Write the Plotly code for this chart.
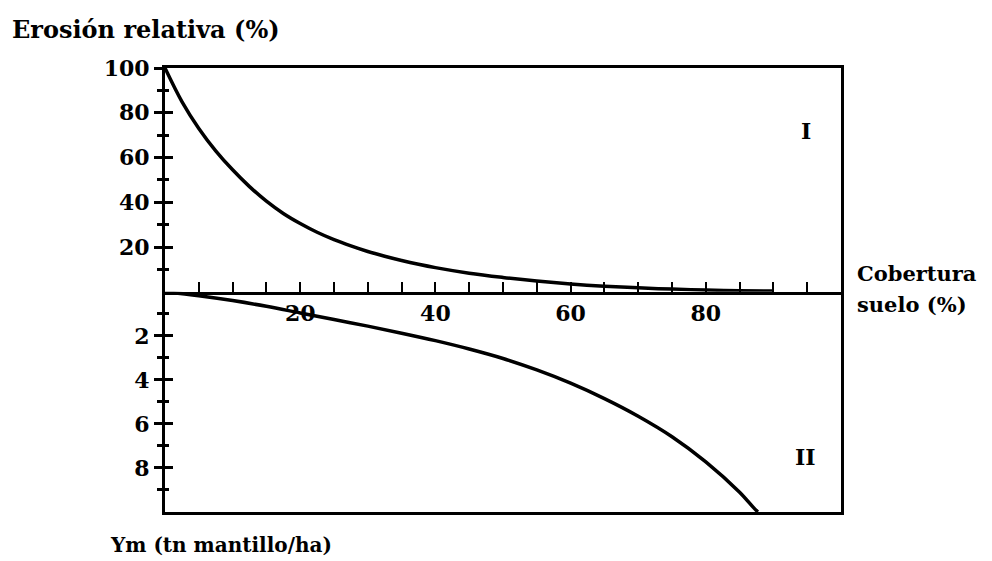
import plotly.graph_objects as go

# Cobertura del suelo (%)
cover_top = [0, 2.5, 5, 7.5, 10, 12.5, 15, 17.5, 20, 22.5, 25, 27.5, 30, 32.5, 35, 37.5, 40,
             45, 50, 55, 60, 65, 70, 75, 80, 85, 90]
# Erosión relativa (%)
erosion = [100, 85, 73, 63, 54.5, 47, 40.5, 35, 30.5, 26.6, 23.3, 20.5, 18, 15.9, 14, 12.3, 10.8,
           8.3, 6.4, 4.8, 3.5, 2.5, 1.75, 1.2, 0.8, 0.5, 0.3]

cover_bot = [0, 5, 10, 15, 20, 25, 30, 35, 40, 45, 50, 55, 60, 65, 70, 75, 80, 85, 87, 87.7]
# Ym (tn mantillo/ha)
mulch = [0, 0.18, 0.40, 0.66, 0.96, 1.26, 1.56, 1.88, 2.22, 2.60, 3.03, 3.55, 4.15, 4.85, 5.65, 6.58, 7.72, 9.1, 9.78, 10]

x_tickvals = [5, 10, 15, 20, 25, 30, 35, 40, 45, 50, 55, 60, 65, 70, 75, 80, 85, 90, 95]
x_ticktext = ["", "", "", "20", "", "", "", "40", "", "", "", "60", "", "", "", "80", "", "", ""]
top_major = [20, 40, 60, 80, 100]
top_minor = [10, 30, 50, 70, 90]
bot_major = [2, 4, 6, 8]
bot_minor = [1, 3, 5, 7, 9]

FONT = "DejaVu Serif"
SPLIT = 0.496
TICKFONT = dict(family=FONT, size=22, color="black", weight="bold")

fig = go.Figure()
fig.add_trace(go.Scatter(x=cover_top, y=erosion, mode="lines", xaxis="x", yaxis="y",
                         line=dict(color="black", width=3.5, shape="spline", smoothing=1.0),
                         showlegend=False, hoverinfo="skip"))
fig.add_trace(go.Scatter(x=cover_bot, y=mulch, mode="lines", xaxis="x2", yaxis="y2",
                         line=dict(color="black", width=3.5, shape="spline", smoothing=1.0),
                         showlegend=False, hoverinfo="skip"))
# dummy traces so overlay axes are drawn
fig.add_trace(go.Scatter(x=[None], y=[None], xaxis="x", yaxis="y3", showlegend=False, hoverinfo="skip"))
fig.add_trace(go.Scatter(x=[None], y=[None], xaxis="x2", yaxis="y4", showlegend=False, hoverinfo="skip"))

common_y = dict(showgrid=False, zeroline=False, color="black", automargin=False)

fig.update_layout(
    width=984, height=553,
    margin=dict(l=157, r=151, t=60, b=49),
    paper_bgcolor="white", plot_bgcolor="rgba(0,0,0,0)",
    font=dict(family=FONT, size=21, color="black"),
    xaxis=dict(domain=[0, 1], range=[0, 100], anchor="y", showgrid=False, zeroline=False,
               automargin=False,
               showline=True, linewidth=3, linecolor="black", mirror=True,
               ticks="inside", ticklen=10, tickwidth=2, tickcolor="black",
               tickmode="array", tickvals=x_tickvals, ticktext=x_ticktext,
               tickfont=TICKFONT),
    xaxis2=dict(domain=[0, 1], range=[0, 100], anchor="y2", matches="x", showgrid=False,
                automargin=False,
                zeroline=False, showline=True, linewidth=3, linecolor="black", mirror=False,
                ticks="", showticklabels=False),
    yaxis=dict(domain=[SPLIT, 1], range=[0, 100], anchor="x", **common_y,
               showline=True, linewidth=3, linecolor="black", mirror=True,
               ticks="outside", ticklen=8, tickwidth=3, tickcolor="black",
               tickmode="array", tickvals=top_major, tickfont=TICKFONT,
               minor=dict(tickmode="array", tickvals=top_minor, ticks="outside",
                          ticklen=5, tickwidth=3, tickcolor="black")),
    yaxis3=dict(overlaying="y", range=[0, 100], anchor="x", **common_y,
                showline=False, ticks="inside", ticklen=8, tickwidth=3, tickcolor="black",
                tickmode="array", tickvals=top_major, showticklabels=False,
                minor=dict(tickmode="array", tickvals=top_minor, ticks="inside",
                           ticklen=4, tickwidth=3, tickcolor="black")),
    yaxis2=dict(domain=[0, SPLIT], range=[10, 0], anchor="x2", **common_y,
                showline=True, linewidth=3, linecolor="black", mirror=True,
                ticks="outside", ticklen=8, tickwidth=3, tickcolor="black",
                tickmode="array", tickvals=bot_major, tickfont=TICKFONT,
                minor=dict(tickmode="array", tickvals=bot_minor, ticks="outside",
                           ticklen=5, tickwidth=3, tickcolor="black")),
    yaxis4=dict(overlaying="y2", range=[10, 0], anchor="x2", **common_y,
                showline=False, ticks="inside", ticklen=8, tickwidth=3, tickcolor="black",
                tickmode="array", tickvals=bot_major, showticklabels=False,
                minor=dict(tickmode="array", tickvals=bot_minor, ticks="inside",
                           ticklen=4, tickwidth=3, tickcolor="black")),
)

def label(text, x, y, size, **kw):
    fig.add_annotation(text=text, x=x, y=y, showarrow=False,
                       font=dict(family=FONT, size=size, color="black", weight="bold"), **kw)

label("Erosión relativa (%)", -0.229, 1.0856, 24, xref="paper", yref="paper", xanchor="left", yanchor="middle")
label("Cobertura", 1.0207, 0.538, 21, xref="paper", yref="paper", xanchor="left", yanchor="middle")
label("suelo (%)", 1.0207, 0.468, 21, xref="paper", yref="paper", xanchor="left", yanchor="middle")
label("Ym (tn mantillo/ha)", -0.0843, -0.0743, 20, xref="paper", yref="paper", xanchor="left", yanchor="middle")
label("I", 94.8, 72, 22, xref="x", yref="y")
label("II", 94.8, 7.5, 22, xref="x2", yref="y2")

fig.write_html("out.html")
